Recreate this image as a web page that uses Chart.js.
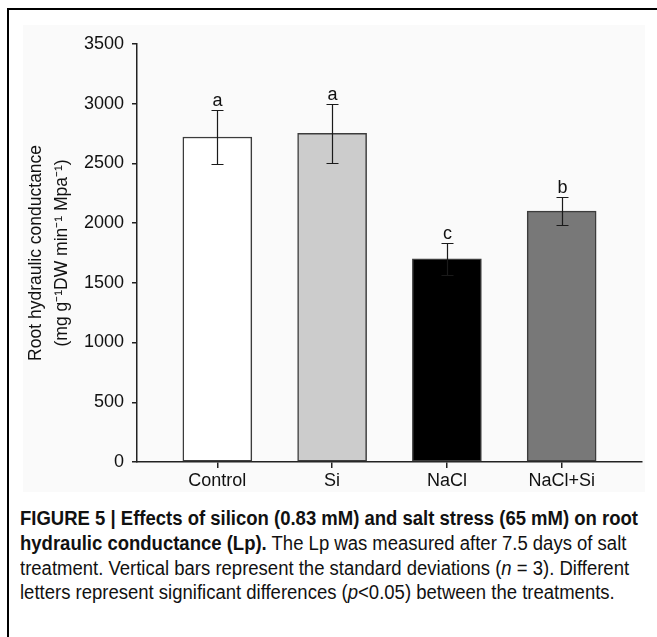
<!DOCTYPE html>
<html>
<head>
<meta charset="utf-8">
<script src="https://cdn.jsdelivr.net/npm/chart.js@4.4.1/dist/chart.umd.min.js"></script>
<style>
  html, body { margin: 0; padding: 0; background: #fff; }
  body { width: 657px; height: 637px; position: relative; overflow: hidden; font-family: "Liberation Sans", Arial, sans-serif; }
  #frameTop { position: absolute; left: 7px; top: 8px; width: 650px; height: 2px; background: #000; }
  #frameLeft { position: absolute; left: 7px; top: 8px; width: 2px; height: 629px; background: #000; }
  #plot { position: absolute; left: 23px; top: 25px; width: 622px; height: 467px; background: #fafafa; }
  #caption { position: absolute; left: 20px; top: 506px; font-size: 19.5px; line-height: 24.8px; color: #111; white-space: nowrap; transform-origin: 0 0; }
  #caption b { font-weight: bold; }
</style>
</head>
<body>
<div id="frameTop"></div>
<div id="frameLeft"></div>
<div id="plot"><canvas id="lpChart"></canvas></div>
<div id="caption">
  <span id="line1"><b>FIGURE 5 | Effects of silicon (0.83 mM) and salt stress (65 mM) on root</b></span><br>
  <b>hydraulic conductance (Lp).</b> The Lp was measured after 7.5 days of salt<br>
  treatment. Vertical bars represent the standard deviations (<i>n</i> = 3). Different<br>
  letters represent significant differences (<i>p</i>&lt;0.05) between the treatments.
</div>

<script>
/* =========================
   DATA
========================= */
const categories = ["Control", "Si", "NaCl", "NaCl+Si"];
const meanLp = [2720, 2750, 1700, 2100];
const sdLp = [230, 250, 135, 115];
const letters = ["a", "a", "c", "b"];
const yTicks = [0, 500, 1000, 1500, 2000, 2500, 3000, 3500];

const barColors = ["#ffffff", "#cccccc", "#000000", "#787878"];

Chart.defaults.font.family = "'Liberation Sans', Arial, sans-serif";
Chart.defaults.color = "#111";

/* =========================
   ERROR BARS + LETTERS
========================= */
const errorBars = {
  id: "errorBars",
  afterDatasetsDraw(chart) {
    const { ctx, scales: { x, y } } = chart;
    ctx.save();
    ctx.strokeStyle = "#1a1a1a";
    ctx.lineWidth = 1.2;
    ctx.fillStyle = "#111";
    ctx.font = "18px 'Liberation Sans', Arial, sans-serif";
    ctx.textAlign = "center";
    ctx.textBaseline = "alphabetic";
    meanLp.forEach((m, i) => {
      const px = Math.round(x.getPixelForValue(i)) + 0.5;
      const top = Math.round(y.getPixelForValue(m + sdLp[i])) + 0.5;
      const bot = Math.round(y.getPixelForValue(m - sdLp[i])) + 0.5;
      ctx.beginPath();
      ctx.moveTo(px, top); ctx.lineTo(px, bot);
      ctx.moveTo(px - 6, top); ctx.lineTo(px + 6, top);
      ctx.moveTo(px - 6, bot); ctx.lineTo(px + 6, bot);
      ctx.stroke();
      ctx.fillText(letters[i], px, top - 5);
    });
    ctx.restore();
  }
};

/* =========================
   CHART
========================= */
new Chart(document.getElementById("lpChart"), {
  type: "bar",
  data: {
    datasets: [{
      data: meanLp.map((v, i) => ({ x: i, y: v })),
      backgroundColor: barColors,
      borderColor: "#3c3c3c",
      borderWidth: 1.5,
      borderSkipped: false,
      barThickness: 69
    }]
  },
  options: {
    responsive: true,
    maintainAspectRatio: false,
    animation: false,
    layout: { padding: { top: 10, right: 3, left: 0, bottom: 0 } },
    plugins: { legend: { display: false }, tooltip: { enabled: false } },
    scales: {
      x: {
        type: "linear",
        min: -0.7,
        max: 3.7,
        offset: false,
        grid: { display: true, offset: false, drawOnChartArea: false, tickLength: 6, color: "#222", lineWidth: 1.5 },
        border: { color: "#222", width: 1.5 },
        afterBuildTicks: s => { s.ticks = categories.map((c, i) => ({ value: i })); },
        afterFit: s => { s.height = 30; },
        ticks: {
          callback: v => categories[v],
          font: { size: 18 },
          color: "#111",
          padding: 2,
          maxRotation: 0,
          autoSkip: false
        }
      },
      y: {
        min: 0,
        max: 3500,
        grid: { display: true, drawOnChartArea: false, tickLength: 5, color: "#222", lineWidth: 1.5 },
        border: { color: "#222", width: 1.5 },
        afterBuildTicks: s => { s.ticks = yTicks.map(v => ({ value: v })); },
        afterFit: s => { s.width = 114; },
        ticks: { font: { size: 18 }, color: "#111", padding: 8, callback: v => String(v) },
        title: {
          display: true,
          text: ["Root hydraulic conductance", "(mg g\u207B\u00B9DW min\u207B\u00B9 Mpa\u207B\u00B9)"],
          font: { size: 17.5, lineHeight: 26 / 17.5 },
          color: "#111",
          padding: { top: 0, bottom: 0 }
        }
      }
    }
  },
  plugins: [errorBars]
});

/* caption: squeeze to the narrow type of the original */
const cap = document.getElementById("caption");
const w1 = document.getElementById("line1").getBoundingClientRect().width;
cap.style.transform = `scaleX(${618 / w1})`;
</script>
</body>
</html>
